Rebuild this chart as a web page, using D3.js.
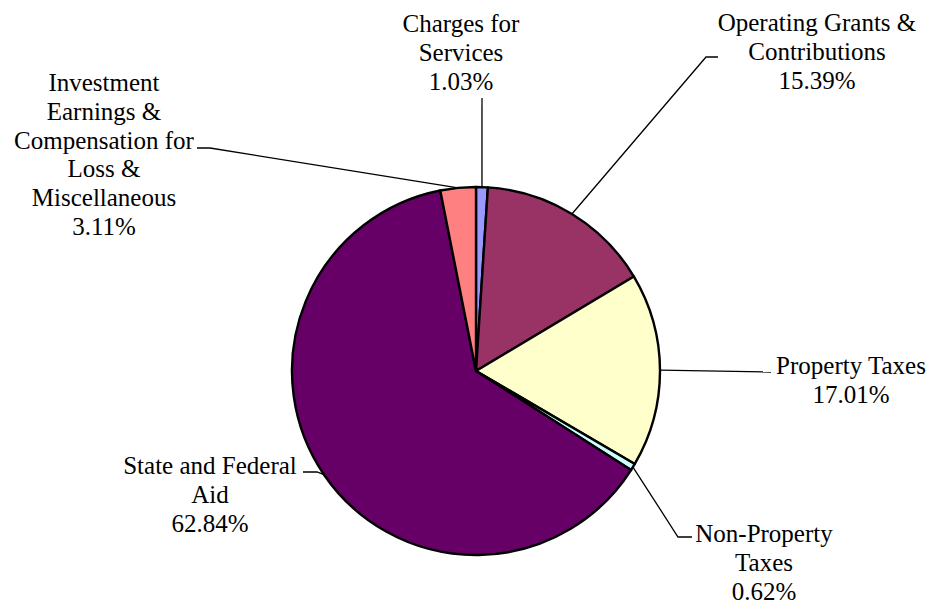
<!DOCTYPE html>
<html lang="en">
<head>
<script src="https://d3js.org/d3.v7.min.js"></script>
<style>
  body { margin: 0; background: #fff; }
  text { font-size: 25px; fill: #000; }
</style>
</head>
<body>
<div id="chart"></div>
<script>
  // revenue shares, clockwise from 12 o'clock
  const categories = ["Charges for Services", "Operating Grants & Contributions", "Property Taxes",
                      "Non-Property Taxes", "State and Federal Aid",
                      "Investment Earnings & Compensation for Loss & Miscellaneous"];
  const shares = [1.03, 15.39, 17.01, 0.62, 62.84, 3.11];
  const labelLines = [
    ["Charges for", "Services"],
    ["Operating Grants &", "Contributions"],
    ["Property Taxes"],
    ["Non-Property", "Taxes"],
    ["State and Federal", "Aid"],
    ["Investment", "Earnings &", "Compensation for", "Loss &", "Miscellaneous"]
  ];
  const colors = ["#9999ff", "#993366", "#ffffcc", "#ccffff", "#660066", "#ff8080"];

  var width = 933, height = 603,
      cx = 476, cy = 371, radius = 184,
      lineH = 28.8;

  // where each label sits and the bends of its leader line
  var layout = [
    { x: 461, y: 23,  bend: [[482, 98]] },
    { x: 817, y: 22,  bend: [[706, 57], [718, 57]] },
    { x: 851, y: 365, bend: [[771, 372]] },
    { x: 764, y: 533, bend: [[678, 537], [692, 537]] },
    { x: 210, y: 465, bend: [[317, 472], [303, 472]] },
    { x: 104, y: 82,  bend: [[210, 148], [197, 148]] }
  ];

  var data = categories.map((c, i) => ({ name: c, value: shares[i], i: i }));

  var pie = d3.pie().sort(null).value(d => d.value);
  var arc = d3.arc().innerRadius(0).outerRadius(radius);
  var arcs = pie(data);

  var svg = d3.select("#chart").append("svg")
      .attr("width", width)
      .attr("height", height);

  var g = svg.append("g").attr("transform", "translate(" + cx + "," + cy + ")");

  g.selectAll("path")
    .data(arcs)
    .enter()
    .append("path")
    .attr("d", arc)
    .attr("fill", d => colors[d.data.i])
    .attr("stroke", "#000")
    .attr("stroke-width", 2.4)
    .attr("stroke-linejoin", "round");

  // leader lines from the slice edge to the label
  svg.selectAll("polyline.leader")
    .data(arcs)
    .enter()
    .append("polyline")
    .attr("class", "leader")
    .attr("fill", "none")
    .attr("stroke", "#000")
    .attr("stroke-width", 1.3)
    .attr("points", d => {
      var a = (d.startAngle + d.endAngle) / 2;
      var p = [cx + radius * Math.sin(a), cy - radius * Math.cos(a)];
      return [p].concat(layout[d.data.i].bend).map(q => q.join(",")).join(" ");
    });

  var labels = svg.selectAll("text.lbl")
    .data(arcs)
    .enter()
    .append("text")
    .attr("class", "lbl")
    .attr("font-family", "'Liberation Serif', 'Times New Roman', serif")
    .attr("text-anchor", "middle")
    .attr("dominant-baseline", "central");

  labels.each(function(d) {
    var L = layout[d.data.i];
    var lines = labelLines[d.data.i].concat([d.data.value.toFixed(2) + "%"]);
    d3.select(this).selectAll("tspan")
      .data(lines)
      .enter()
      .append("tspan")
      .attr("x", L.x)
      .attr("y", (t, k) => L.y + k * lineH)
      .text(t => t);
  });
</script>
</body>
</html>
